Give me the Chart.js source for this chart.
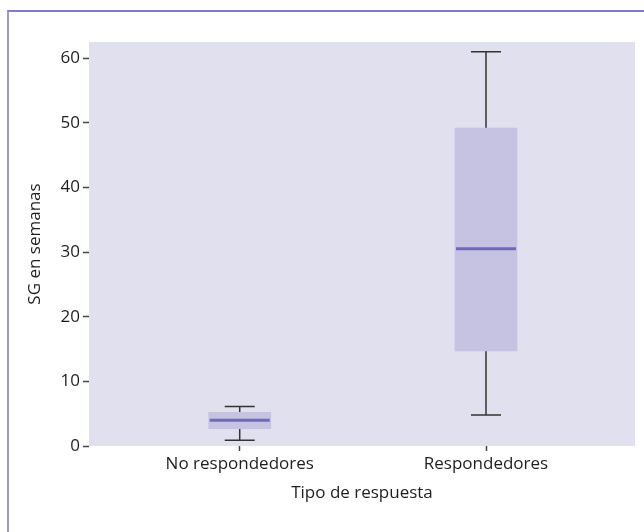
<!DOCTYPE html>
<html>
<head>
<meta charset="utf-8">
<script src="https://cdn.jsdelivr.net/npm/chart.js@4.4.1/dist/chart.umd.min.js"></script>
<style>
  html, body { margin: 0; padding: 0; background: #ffffff; }
  #wrap { position: relative; width: 644px; height: 532px; overflow: hidden; }
  #frame { position: absolute; left: 7px; top: 10px; right: 0; bottom: 0;
           border-top: 2px solid #7f7ac7; border-left: 2px solid #9e9bcc; }
  canvas { position: absolute; left: 0; top: 0; }
</style>
</head>
<body>
<div id="wrap">
  <div id="frame"></div>
  <canvas id="c" width="644" height="532"></canvas>
</div>
<script>
const categories = ['No respondedores', 'Respondedores'];
const mins    = [0.9, 4.8];
const q1s     = [2.7, 14.7];
const medians = [4.0, 30.5];
const q3s     = [5.2, 49.2];
const maxs    = [6.1, 61.0];
const yTicks  = [0, 10, 20, 30, 40, 50, 60];

const FONT = '"Open Sans", Lato, sans-serif';
const FSIZE = 17;
const TEXT = '#1e1e1e';

const bgPlugin = {
  id: 'plotbg',
  beforeDraw(chart) {
    const { ctx, chartArea: a } = chart;
    ctx.save();
    ctx.fillStyle = '#e1e0ef';
    ctx.fillRect(a.left, a.top, a.right - a.left, a.bottom - a.top);
    ctx.restore();
  }
};

const boxPlugin = {
  id: 'boxparts',
  beforeDatasetsDraw(chart) {
    const { ctx, scales: { x, y } } = chart;
    ctx.save();
    ctx.strokeStyle = '#333333';
    ctx.lineWidth = 1.5;
    const capHalf = 15;
    categories.forEach((c, i) => {
      const px = x.getPixelForValue(i + 1);
      const yMin = y.getPixelForValue(mins[i]);
      const yMax = y.getPixelForValue(maxs[i]);
      const yQ1 = y.getPixelForValue(q1s[i]);
      const yQ3 = y.getPixelForValue(q3s[i]);
      ctx.beginPath();
      ctx.moveTo(px, yMin); ctx.lineTo(px, yQ1);
      ctx.moveTo(px, yQ3); ctx.lineTo(px, yMax);
      ctx.moveTo(px - capHalf, yMin); ctx.lineTo(px + capHalf, yMin);
      ctx.moveTo(px - capHalf, yMax); ctx.lineTo(px + capHalf, yMax);
      ctx.stroke();
    });
    ctx.restore();
  },
  afterDatasetsDraw(chart) {
    const { ctx, scales: { x, y } } = chart;
    ctx.save();
    ctx.strokeStyle = '#6f6bb3';
    ctx.lineWidth = 3;
    const half = 30;
    categories.forEach((c, i) => {
      const px = x.getPixelForValue(i + 1);
      const py = y.getPixelForValue(medians[i]);
      ctx.beginPath();
      ctx.moveTo(px - half, py); ctx.lineTo(px + half, py);
      ctx.stroke();
    });
    ctx.restore();
  }
};

new Chart(document.getElementById('c'), {
  type: 'bar',
  data: {
    datasets: [{
      data: categories.map((c, i) => ({ x: i + 1, y: [q1s[i], q3s[i]] })),
      backgroundColor: '#c5c3e1',
      borderWidth: 0,
      barThickness: 62
    }]
  },
  plugins: [bgPlugin, boxPlugin],
  options: {
    responsive: false,
    animation: false,
    events: [],
    layout: { padding: { left: 0, top: 42, right: 9, bottom: 0 } },
    plugins: { legend: { display: false }, tooltip: { enabled: false } },
    scales: {
      x: {
        type: 'linear',
        offset: false,
        min: 0.388,
        max: 2.605,
        afterBuildTicks(scale) { scale.ticks = categories.map((c, i) => ({ value: i + 1 })); },
        afterFit(scale) { scale.height = 86; },
        border: { display: false },
        grid: { offset: false, drawOnChartArea: false, drawTicks: true, tickLength: 5, tickColor: '#444444', tickWidth: 1.5 },
        ticks: {
          padding: 3,
          color: TEXT,
          font: { family: FONT, size: FSIZE },
          callback: (v) => categories[Math.round(v) - 1] || ''
        },
        title: {
          display: true,
          text: 'Tipo de respuesta',
          color: TEXT,
          font: { family: FONT, size: FSIZE },
          padding: { top: 0, bottom: 29 }
        }
      },
      y: {
        type: 'linear',
        min: 0,
        max: 62.5,
        afterBuildTicks(scale) { scale.ticks = yTicks.map(v => ({ value: v })); },
        afterFit(scale) { scale.width = 89; },
        border: { display: false },
        grid: { drawOnChartArea: false, drawTicks: true, tickLength: 6, tickColor: '#444444', tickWidth: 1.5 },
        ticks: {
          padding: 3,
          color: TEXT,
          font: { family: FONT, size: FSIZE }
        },
        title: {
          display: true,
          text: 'SG en semanas',
          color: TEXT,
          font: { family: FONT, size: FSIZE },
          padding: { top: 25, bottom: 0 }
        }
      }
    }
  }
});
</script>
</body>
</html>
